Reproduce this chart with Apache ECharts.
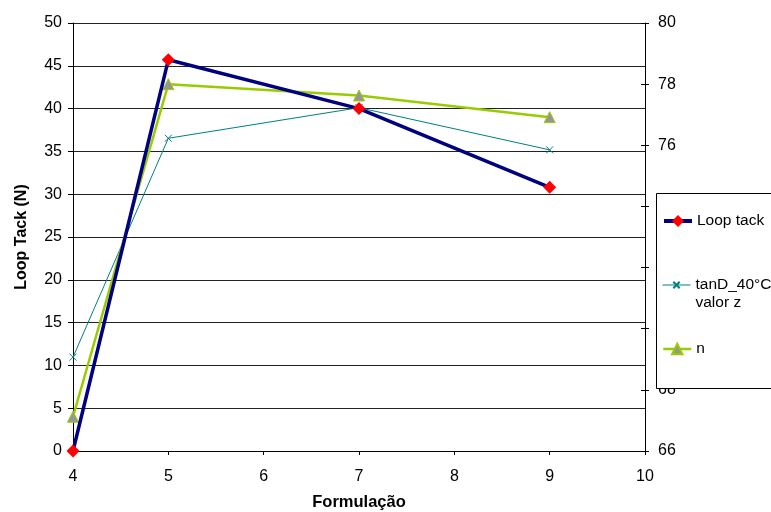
<!DOCTYPE html>
<html><head><meta charset="utf-8">
<script src="https://cdn.jsdelivr.net/npm/echarts@6/dist/echarts.min.js"></script>
<style>html,body{margin:0;padding:0;background:#fff}#c{width:771px;height:512px}</style>
</head><body><div id="c"></div>
<script>
const xValues = [4, 5, 7, 9];
const loopTack = [0, 45.7, 40.0, 30.8];
const tanD = [69.07, 76.23, 77.23, 75.85];
const nValues = [67.12, 78.0, 77.63, 76.92];
const seriesNames = ['Loop tack', 'tanD_40°C\nvalor z', 'n'];
const leftTicks = {min: 0, max: 50, interval: 5};
const rightTicks = {min: 66, max: 80, interval: 2};
const xTicks = {min: 4, max: 10, interval: 1};

const pairs = v => xValues.map((x, i) => [x, v[i]]);
const FONT = "'Liberation Sans', Arial, sans-serif";
const txt = {color: '#000', fontSize: 16, fontFamily: FONT};
const ltxt = {color: '#000', fontSize: 15.5, fontFamily: FONT, lineHeight: 18};

const chart = echarts.init(document.getElementById('c'), null, {renderer: 'canvas'});
const legendBase = {
  orient: 'vertical', left: 662, padding: 0, itemWidth: 28, itemHeight: 14,
  selectedMode: false, z: 101, textStyle: ltxt
};
chart.setOption({
  animation: false,
  backgroundColor: '#fff',
  grid: {left: 73, right: 126, top: 23, bottom: 61, containLabel: false, outerBoundsMode: 'none'},
  xAxis: {
    type: 'value', min: xTicks.min, max: xTicks.max, interval: xTicks.interval,
    name: 'Formulação', nameLocation: 'middle', nameGap: 43,
    nameTextStyle: Object.assign({fontWeight: 'bold'}, txt, {fontSize: 16.5}),
    axisLine: {show: true, onZero: false, lineStyle: {color: '#000', width: 1}},
    axisTick: {show: true, length: 4, lineStyle: {color: '#000'}},
    axisLabel: Object.assign({margin: 18}, txt),
    splitLine: {show: false}
  },
  yAxis: [
    {
      type: 'value', position: 'left', min: leftTicks.min, max: leftTicks.max, interval: leftTicks.interval,
      name: 'Loop Tack (N)', nameLocation: 'middle', nameGap: 43,
      nameTextStyle: Object.assign({fontWeight: 'bold'}, txt),
      axisLine: {show: true, lineStyle: {color: '#000', width: 1}},
      axisTick: {show: true, length: 5, lineStyle: {color: '#000'}},
      axisLabel: Object.assign({margin: 11}, txt),
      splitLine: {show: true, lineStyle: {color: '#222', width: 1}}
    },
    {
      type: 'value', position: 'right', min: rightTicks.min, max: rightTicks.max, interval: rightTicks.interval,
      axisLine: {show: true, lineStyle: {color: '#000', width: 1}},
      axisTick: {show: true, length: 4, lineStyle: {color: '#000'}},
      axisLabel: Object.assign({margin: 13}, txt),
      splitLine: {show: false}
    },
    {
      type: 'value', position: 'right', min: rightTicks.min, max: rightTicks.max, interval: rightTicks.interval,
      axisLine: {show: false},
      axisTick: {show: true, inside: true, length: 4, lineStyle: {color: '#000'}},
      axisLabel: {show: false},
      splitLine: {show: false}
    }
  ],
  graphic: [{
    type: 'rect', z: 100,
    shape: {x: 656.5, y: 193.5, width: 130, height: 195},
    style: {fill: '#fff', stroke: '#000', lineWidth: 1}
  }],
  legend: [
    Object.assign({}, legendBase, {top: 212, itemHeight: 15, lineStyle: {width: 4},
      data: [seriesNames[0]]}),
    Object.assign({}, legendBase, {top: 258, itemHeight: 8, lineStyle: {width: 1},
      data: [seriesNames[1]], formatter: name => ' \n' + name}),
    Object.assign({}, legendBase, {top: 340, itemHeight: 13, lineStyle: {width: 2.5},
      data: [seriesNames[2]]})
  ],
  series: [
    {
      name: seriesNames[1], type: 'line', yAxisIndex: 1, data: pairs(tanD),
      symbol: 'path://M0,0L10,10M10,0L0,10', symbolSize: 7,
      lineStyle: {color: '#008080', width: 1},
      itemStyle: {color: '#008080', borderColor: '#008080', borderWidth: 1},
      z: 2
    },
    {
      name: seriesNames[2], type: 'line', yAxisIndex: 1, data: pairs(nValues),
      symbol: 'triangle', symbolSize: 11,
      lineStyle: {color: '#99CC00', width: 2.5},
      itemStyle: {color: '#969696', borderColor: '#99CC00', borderWidth: 1},
      z: 3
    },
    {
      name: seriesNames[0], type: 'line', yAxisIndex: 0, data: pairs(loopTack),
      symbol: 'diamond', symbolSize: 13,
      lineStyle: {color: '#000080', width: 3.5},
      itemStyle: {color: '#FF0000'},
      z: 4
    }
  ]
});
</script></body></html>
